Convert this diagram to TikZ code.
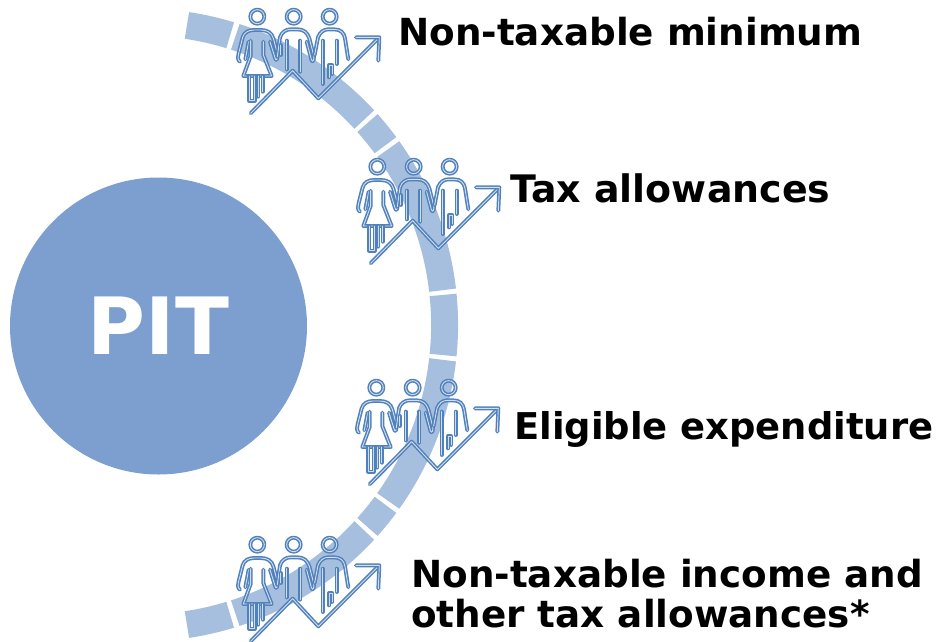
\documentclass[tikz,border=0pt]{standalone}
\usepackage{fontspec}
\setmainfont{DejaVu Sans}
\definecolor{discblue}{HTML}{7C9FCF}
\definecolor{arcblue}{HTML}{A6BFDF}
\definecolor{iconblue}{HTML}{4F81BD}
\definecolor{iconfill}{HTML}{D4DEEA}
\tikzset{
  seg/.style={draw=arcblue,line width=27pt},
  ico/.style={draw=iconblue,line width=1.5pt,double=iconfill,double distance=0.9pt,line join=round,line cap=round},
  lab/.style={anchor=base west,inner sep=0pt,text=black,font=\fontsize{37.3}{41}\selectfont\bfseries},
  pics/people/.style={code={
    \begin{scope}[x=0.3333pt,y=-0.3333pt]
    \draw[ico] (232,50) circle[radius=7pt];
    \draw[ico] (341,50) circle[radius=7pt];
    \draw[ico] (449,50) circle[radius=7pt];
    % woman
    \draw[ico] (180,185) .. controls (172,180) and (174,170) .. (176,160) -- (188,112)
       .. controls (192,98) and (205,90) .. (222,90) -- (242,90)
       .. controls (262,90) and (275,98) .. (280,115) -- (292,160)
       .. controls (294,180) and (288,188) .. (284,170) -- (270,125);
    \draw[ico] (196,178) -- (206,125);
    \draw[ico] (212,122) -- (212,168) -- (190,228) -- (275,228) -- (250,165) -- (250,125);
    \draw[ico] (208,228) -- (208,302) -- (224,302) -- (224,228);
    \draw[ico] (234,228) -- (234,290);
    \draw[ico] (248,228) -- (248,275);
    % middle man
    \draw[ico] (292,170) -- (300,112) .. controls (305,96) and (318,88) .. (332,88) -- (352,88)
       .. controls (372,88) and (382,98) .. (388,115) -- (402,170)
       .. controls (402,188) and (394,188) .. (392,170) -- (380,125);
    \draw[ico] (320,122) -- (320,208);
    \draw[ico] (360,122) -- (360,215);
    \draw[ico] (302,135) -- (302,165);
    % right man
    \draw[ico] (404,165) -- (414,112) .. controls (420,96) and (432,88) .. (445,88) -- (462,88)
       .. controls (482,88) and (492,98) .. (495,115) -- (505,178);
    \draw[ico] (428,122) -- (428,252);
    \draw[ico] (470,122) -- (470,192);
    \draw[ico] (447,232) -- (447,195) -- (456,195) -- (456,222);
    % arrow
    \draw[ico] (212,340) -- (338,212) -- (415,295) -- (595,115);
    \draw[ico] (528,112) -- (598,112) -- (595,182);
    \end{scope}
  }}
}
\begin{document}
\begin{tikzpicture}[x=1pt,y=-1pt]
\useasboundingbox (0,0) rectangle (938,641);
\begin{scope}[shift={(141.6,325)}]
  \draw[seg] (81.4:303pt) arc[start angle=81.4,end angle=73,radius=303pt];
  \draw[seg] (72:303pt) arc[start angle=72,end angle=42.7,radius=303pt];
  \draw[seg] (41.8:303pt) arc[start angle=41.8,end angle=36.4,radius=303pt];
  \draw[seg] (35.5:303pt) arc[start angle=35.5,end angle=6.6,radius=303pt];
  \draw[seg] (5.7:303pt) arc[start angle=5.7,end angle=-5.7,radius=303pt];
  \draw[seg] (-6.6:303pt) arc[start angle=-6.6,end angle=-35.5,radius=303pt];
  \draw[seg] (-36.4:303pt) arc[start angle=-36.4,end angle=-41.8,radius=303pt];
  \draw[seg] (-42.7:303pt) arc[start angle=-42.7,end angle=-72,radius=303pt];
  \draw[seg] (-73:303pt) arc[start angle=-73,end angle=-81.4,radius=303pt];
\end{scope}
\node[circle,fill=discblue,minimum size=297pt,inner sep=0pt,text=white,font=\fontsize{79}{85}\selectfont\bfseries] (pit) at (158.5,326) {PIT};
\pic (icona) at (180,0) {people};
\pic (iconb) at (300,150) {people};
\pic (iconc) at (299,371) {people};
\begin{scope}
\clip (0,0) rectangle (938,641);
\pic (icond) at (180,528) {people};
\end{scope}
\node[lab] (t1) at (398,45) {Non-taxable minimum};
\node[lab,font=\fontsize{37.9}{41}\selectfont\bfseries] (t2) at (510,202) {Tax allowances};
\node[lab,font=\fontsize{36.9}{41}\selectfont\bfseries] (t3) at (514,439) {Eligible expenditure};
\node[lab] (t4) at (411,587) {Non-taxable income and};
\node[lab] (t5) at (411,627) {other tax allowances*};
\end{tikzpicture}
\end{document}
